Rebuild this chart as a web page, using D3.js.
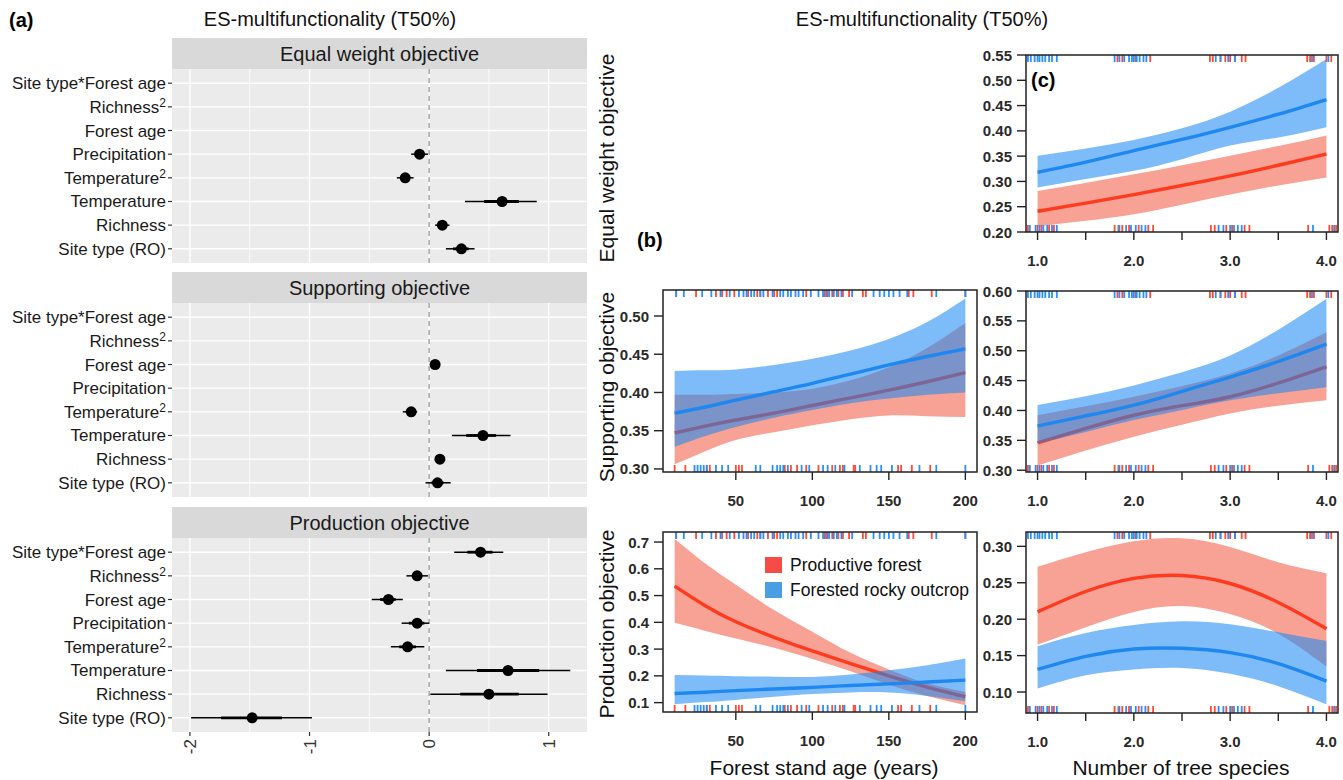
<!DOCTYPE html>
<html>
<head>
<meta charset="utf-8">
<script src="https://cdn.jsdelivr.net/npm/d3@7"></script>
<style>
  body { margin: 0; background: #fff; }
  svg { display: block; font-family: "Liberation Sans", Arial, sans-serif; }
</style>
</head>
<body>
<svg id="fig" width="1343" height="780"></svg>
<script>
// #region Data : panel (a) coefficients
const terms = ["Site type*Forest age", "Richness", "Forest age", "Precipitation", "Temperature", "Temperature", "Richness", "Site type (RO)"];
const termSup = ["", "2", "", "", "2", "", "", ""];
const objectives = ["Equal weight objective", "Supporting objective", "Production objective"];
const coefTicks = [-2, -1, 0, 1];

// estimate, outer interval, inner interval (null = term not retained)
const eqEst  = [null, null, null, -0.08, -0.20, 0.61, 0.11, 0.27];
const eqLo   = [null, null, null, -0.15, -0.27, 0.30, 0.05, 0.14];
const eqHi   = [null, null, null, -0.01, -0.13, 0.90, 0.17, 0.38];
const eqLoIn = [null, null, null, -0.12, -0.24, 0.46, 0.08, 0.20];
const eqHiIn = [null, null, null, -0.05, -0.16, 0.75, 0.14, 0.33];

const supEst  = [null, null, 0.05, null, -0.15, 0.45, 0.09, 0.07];
const supLo   = [null, null, 0.02, null, -0.22, 0.19, 0.05, -0.03];
const supHi   = [null, null, 0.09, null, -0.10, 0.68, 0.13, 0.18];
const supLoIn = [null, null, 0.03, null, -0.19, 0.31, 0.07, 0.02];
const supHiIn = [null, null, 0.07, null, -0.12, 0.56, 0.11, 0.12];

const prodEst  = [0.43, -0.10, -0.34, -0.10, -0.18, 0.66, 0.50, -1.48];
const prodLo   = [0.21, -0.19, -0.48, -0.23, -0.32, 0.14, 0.01, -1.99];
const prodHi   = [0.62, -0.01, -0.22, 0.00, -0.04, 1.18, 0.99, -0.98];
const prodLoIn = [0.32, -0.14, -0.41, -0.17, -0.25, 0.40, 0.26, -1.74];
const prodHiIn = [0.53, -0.06, -0.28, -0.04, -0.11, 0.92, 0.75, -1.23];
// #endregion

// #region Data : panels (b) forest stand age effects
const ageX = [10, 30, 50, 75, 100, 125, 150, 175, 200];
const ageTicks = [50, 100, 150, 200];

const supAgeRedFit = [0.347, 0.356, 0.364, 0.373, 0.383, 0.393, 0.403, 0.414, 0.426];
const supAgeRedLo  = [0.306, 0.323, 0.338, 0.348, 0.357, 0.365, 0.370, 0.369, 0.368];
const supAgeRedHi  = [0.397, 0.397, 0.398, 0.400, 0.405, 0.416, 0.433, 0.458, 0.491];
const supAgeBlueFit = [0.373, 0.381, 0.390, 0.401, 0.412, 0.424, 0.436, 0.447, 0.457];
const supAgeBlueLo  = [0.329, 0.343, 0.355, 0.367, 0.377, 0.386, 0.392, 0.397, 0.400];
const supAgeBlueHi  = [0.428, 0.429, 0.430, 0.436, 0.444, 0.455, 0.470, 0.492, 0.523];

const prodAgeRedFit = [0.535, 0.462, 0.402, 0.344, 0.293, 0.246, 0.200, 0.158, 0.122];
const prodAgeRedLo  = [0.398, 0.368, 0.340, 0.305, 0.263, 0.217, 0.167, 0.125, 0.090];
const prodAgeRedHi  = [0.711, 0.620, 0.540, 0.446, 0.365, 0.286, 0.224, 0.172, 0.140];
const prodAgeBlueFit = [0.134, 0.139, 0.145, 0.151, 0.157, 0.164, 0.170, 0.177, 0.184];
const prodAgeBlueLo  = [0.094, 0.102, 0.110, 0.122, 0.132, 0.138, 0.138, 0.125, 0.105];
const prodAgeBlueHi  = [0.203, 0.201, 0.199, 0.197, 0.196, 0.205, 0.221, 0.240, 0.265];

// rug: stand ages of the plots
const ageTopRed  = [11, 24, 37, 41, 44, 49, 58, 64, 66, 71, 75, 77, 96, 108, 110, 113, 117, 120, 124, 133, 135, 163, 166, 178, 200];
const ageTopBlue = [11, 16, 28, 34, 40, 46, 52, 55, 57, 60, 62, 66, 68, 74, 79, 81, 84, 86, 89, 91, 94, 99, 104, 107, 109, 111, 114, 116, 119, 126, 140, 144, 147, 150, 153, 157, 162, 181, 200];
const ageBotRed  = [10, 17, 31, 33, 50, 52, 54, 82, 86, 90, 96, 104, 113, 118, 120, 127, 128, 156, 158, 165, 177];
const ageBotBlue = [23, 25, 27, 29, 31, 37, 41, 45, 63, 66, 74, 77, 79, 81, 84, 93, 98, 107, 110, 115, 121, 131, 138, 142, 145, 152, 170, 181, 200];
// #endregion

// #region Data : panels (c) number of tree species effects
const spX = [1, 1.5, 2, 2.5, 3, 3.5, 4];
const spTicks = [1, 1.5, 2, 2.5, 3, 3.5, 4];

const eqSpRedFit = [0.241, 0.257, 0.274, 0.292, 0.311, 0.332, 0.354];
const eqSpRedLo  = [0.211, 0.222, 0.235, 0.254, 0.274, 0.292, 0.308];
const eqSpRedHi  = [0.281, 0.297, 0.314, 0.332, 0.351, 0.370, 0.391];
const eqSpBlueFit = [0.318, 0.338, 0.361, 0.383, 0.407, 0.433, 0.462];
const eqSpBlueLo  = [0.288, 0.305, 0.321, 0.344, 0.371, 0.387, 0.407];
const eqSpBlueHi  = [0.351, 0.365, 0.382, 0.405, 0.438, 0.485, 0.542];

const supSpRedFit = [0.346, 0.370, 0.392, 0.408, 0.423, 0.446, 0.473];
const supSpRedLo  = [0.308, 0.333, 0.356, 0.376, 0.395, 0.408, 0.417];
const supSpRedHi  = [0.392, 0.407, 0.423, 0.441, 0.462, 0.492, 0.531];
const supSpBlueFit = [0.374, 0.391, 0.409, 0.432, 0.456, 0.482, 0.511];
const supSpBlueLo  = [0.345, 0.364, 0.384, 0.401, 0.417, 0.429, 0.439];
const supSpBlueHi  = [0.409, 0.424, 0.442, 0.464, 0.492, 0.535, 0.587];

const prodSpRedFit = [0.210, 0.238, 0.256, 0.260, 0.249, 0.223, 0.187];
const prodSpRedLo  = [0.165, 0.189, 0.210, 0.218, 0.207, 0.180, 0.135];
const prodSpRedHi  = [0.272, 0.292, 0.307, 0.311, 0.299, 0.278, 0.263];
const prodSpBlueFit = [0.131, 0.149, 0.159, 0.160, 0.154, 0.139, 0.115];
const prodSpBlueLo  = [0.105, 0.123, 0.131, 0.133, 0.125, 0.108, 0.083];
const prodSpBlueHi  = [0.163, 0.181, 0.192, 0.197, 0.193, 0.182, 0.170];

const spTopRed  = [1.83, 1.88, 2.02, 2.17, 2.79, 2.82, 2.90, 2.95, 3.00, 3.05, 3.12, 3.16, 3.80, 3.83, 3.87, 4.00, 4.05];
const spTopBlue = [0.90, 0.93, 0.97, 1.00, 1.02, 1.05, 1.08, 1.12, 1.15, 1.20, 1.80, 1.85, 1.90, 1.95, 1.98, 2.00, 2.03, 2.06, 2.10, 2.13, 2.85, 2.90, 2.98, 3.05, 3.85, 4.02];
const spBotRed  = [0.90, 1.00, 1.04, 1.12, 1.17, 1.80, 1.84, 1.88, 1.95, 2.05, 2.15, 2.20, 2.80, 2.84, 2.96, 3.02, 3.15, 3.20, 3.81, 4.03, 4.06, 4.10];
const spBotBlue = [0.92, 0.98, 1.02, 1.06, 1.10, 1.15, 1.20, 1.85, 1.92, 1.97, 2.02, 2.08, 2.12, 2.88, 2.93, 3.00, 3.04, 3.08, 3.12, 3.86, 4.08];

const legendLabels = ["Productive forest", "Forested rocky outcrop"];
// #endregion

const svg = d3.select("#fig");

const redLine = "#ff3b1f", redBand = "#f8a195";
const blueLine = "#1e88f0", blueBand = "rgb(24,136,242)", blueAlpha = 0.56;

// #region Panel (a) : coefficient plot (ggplot look)
const xA = d3.scaleLinear().domain([-2.15, 1.32]).range([172, 587]);
const stripTops = [38, 272, 507];
const stripH = 31, panelH = 194;

const coefSets = [
  [eqEst, eqLo, eqHi, eqLoIn, eqHiIn],
  [supEst, supLo, supHi, supLoIn, supHiIn],
  [prodEst, prodLo, prodHi, prodLoIn, prodHiIn]
];

svg.append("text").attr("x", 9).attr("y", 27).attr("font-size", 20).attr("font-weight", "bold").text("(a)");
svg.append("text").attr("x", 330).attr("y", 26).attr("text-anchor", "middle").attr("font-size", 20).attr("fill", "#111")
  .text("ES-multifunctionality (T50%)");

objectives.forEach((obj, k) => {
  const top = stripTops[k] + stripH, bottom = top + panelH;
  const g = svg.append("g");
  const y = d3.scalePoint().domain(d3.range(terms.length)).range([top, bottom]).padding(0.6);

  // strip
  g.append("rect").attr("x", xA.range()[0]).attr("y", stripTops[k]).attr("width", xA.range()[1] - xA.range()[0])
    .attr("height", stripH).attr("fill", "#d9d9d9");
  g.append("text").attr("x", (xA.range()[0] + xA.range()[1]) / 2).attr("y", stripTops[k] + stripH / 2 + 7)
    .attr("text-anchor", "middle").attr("font-size", 20).attr("fill", "#1a1a1a").text(obj);

  // panel background + grid
  g.append("rect").attr("x", xA.range()[0]).attr("y", top).attr("width", xA.range()[1] - xA.range()[0])
    .attr("height", panelH).attr("fill", "#ebebeb");
  g.selectAll(".minor").data([-1.5, -0.5, 0.5]).join("line")
    .attr("x1", d => xA(d)).attr("x2", d => xA(d)).attr("y1", top).attr("y2", bottom)
    .attr("stroke", "#fff").attr("stroke-width", 0.8);
  g.selectAll(".major").data(coefTicks).join("line")
    .attr("x1", d => xA(d)).attr("x2", d => xA(d)).attr("y1", top).attr("y2", bottom)
    .attr("stroke", "#fff").attr("stroke-width", 1.4);
  g.selectAll(".hgrid").data(d3.range(terms.length)).join("line")
    .attr("x1", xA.range()[0]).attr("x2", xA.range()[1]).attr("y1", d => y(d)).attr("y2", d => y(d))
    .attr("stroke", "#fff").attr("stroke-width", 1.4);

  // zero reference
  g.append("line").attr("x1", xA(0)).attr("x2", xA(0)).attr("y1", top).attr("y2", bottom)
    .attr("stroke", "#a0a0a0").attr("stroke-width", 1.4).attr("stroke-dasharray", "5,4");

  // y axis labels
  d3.range(terms.length).forEach(i => {
    g.append("line").attr("x1", xA.range()[0] - 4).attr("x2", xA.range()[0]).attr("y1", y(i)).attr("y2", y(i))
      .attr("stroke", "#333").attr("stroke-width", 1.2);
    const t = g.append("text").attr("x", xA.range()[0] - 6).attr("y", y(i) + 6)
      .attr("text-anchor", "end").attr("font-size", 17).attr("fill", "#1a1a1a");
    if (termSup[i]) {
      t.append("tspan").text(terms[i]);
      t.append("tspan").attr("font-size", 12).attr("dy", -6).text(termSup[i]);
    } else {
      t.text(terms[i]);
    }
  });

  // estimates
  const [est, lo, hi, loIn, hiIn] = coefSets[k];
  est.forEach((e, i) => {
    if (e === null) return;
    g.append("line").attr("x1", xA(lo[i])).attr("x2", xA(hi[i])).attr("y1", y(i)).attr("y2", y(i))
      .attr("stroke", "#000").attr("stroke-width", 1.5);
    g.append("line").attr("x1", xA(loIn[i])).attr("x2", xA(hiIn[i])).attr("y1", y(i)).attr("y2", y(i))
      .attr("stroke", "#000").attr("stroke-width", 2.8);
    g.append("circle").attr("cx", xA(e)).attr("cy", y(i)).attr("r", 5.5).attr("fill", "#000");
  });

  // x axis on last facet only
  if (k === objectives.length - 1) {
    coefTicks.forEach(v => {
      g.append("line").attr("x1", xA(v)).attr("x2", xA(v)).attr("y1", bottom).attr("y2", bottom + 4)
        .attr("stroke", "#333").attr("stroke-width", 1.2);
      g.append("text").attr("transform", `translate(${xA(v) + 6},${bottom + 7}) rotate(-90)`)
        .attr("text-anchor", "end").attr("font-size", 17).attr("fill", "#333").text(v);
    });
  }
});
// #endregion

// #region Panels (b) and (c) : effect plots (R base look)
function effectPanel(p) {
  const x = d3.scaleLinear().domain(p.xDomain).range([p.left, p.right]);
  const y = d3.scaleLinear().domain(p.yDomain).range([p.bottom, p.top]);
  const g = svg.append("g");
  const clipId = "clip-" + p.id;
  g.append("clipPath").attr("id", clipId).append("rect")
    .attr("x", p.left).attr("y", p.top).attr("width", p.right - p.left).attr("height", p.bottom - p.top);
  const plot = g.append("g").attr("clip-path", `url(#${clipId})`);

  const area = d3.area().x((d, i) => x(p.xs[i])).y0(d => y(d[0])).y1(d => y(d[1])).curve(d3.curveNatural);
  const line = d3.line().x((d, i) => x(p.xs[i])).y(d => y(d)).curve(d3.curveNatural);

  plot.append("path").datum(d3.zip(p.redLo, p.redHi)).attr("d", area).attr("fill", redBand);
  plot.append("path").datum(p.redFit).attr("d", line).attr("fill", "none").attr("stroke", redLine).attr("stroke-width", 3.4);
  plot.append("path").datum(d3.zip(p.blueLo, p.blueHi)).attr("d", area).attr("fill", blueBand).attr("fill-opacity", blueAlpha);
  plot.append("path").datum(p.blueFit).attr("d", line).attr("fill", "none").attr("stroke", blueLine).attr("stroke-width", 3.4);

  // rugs
  const rug = (vals, color, atTop) => plot.selectAll(null).data(vals).join("line")
    .attr("x1", d => x(d)).attr("x2", d => x(d))
    .attr("y1", atTop ? p.top : p.bottom).attr("y2", atTop ? p.top + 7 : p.bottom - 7)
    .attr("stroke", color).attr("stroke-width", 1.8);
  rug(p.rugTopRed, "#ff4a36", true);
  rug(p.rugTopBlue, "#2a90ff", true);
  rug(p.rugBotRed, "#ff4a36", false);
  rug(p.rugBotBlue, "#2a90ff", false);

  // frame
  g.append("rect").attr("x", p.left).attr("y", p.top).attr("width", p.right - p.left).attr("height", p.bottom - p.top)
    .attr("fill", "none").attr("stroke", "#222").attr("stroke-width", 1.5);

  // y axis
  p.yTicks.forEach(v => {
    g.append("line").attr("x1", p.left - 9).attr("x2", p.left).attr("y1", y(v)).attr("y2", y(v))
      .attr("stroke", "#222").attr("stroke-width", 1.4);
    g.append("text").attr("x", p.left - 14).attr("y", y(v) + 5.5).attr("text-anchor", "end")
      .attr("font-size", 15).attr("font-weight", "bold").attr("fill", "#2a2a2a").text(d3.format(p.yFmt)(v));
  });
  // x axis
  p.xTicks.forEach(v => {
    g.append("line").attr("x1", x(v)).attr("x2", x(v)).attr("y1", p.bottom).attr("y2", p.bottom + 8)
      .attr("stroke", "#222").attr("stroke-width", 1.4);
    if (p.xLabel(v)) {
      g.append("text").attr("x", x(v)).attr("y", p.bottom + 34).attr("text-anchor", "middle")
        .attr("font-size", 15).attr("font-weight", "bold").attr("fill", "#2a2a2a").text(p.xLabel(v));
    }
  });
  return { x, y, g };
}

const ageCommon = {
  xs: ageX, xDomain: [2.4, 207.6], left: 663, right: 977, xTicks: ageTicks, xLabel: v => String(v),
  rugTopRed: ageTopRed, rugTopBlue: ageTopBlue, rugBotRed: ageBotRed, rugBotBlue: ageBotBlue
};
const spCommon = {
  xs: spX, xDomain: [0.88, 4.12], left: 1026, right: 1338, xTicks: spTicks,
  xLabel: v => Number.isInteger(v) ? d3.format(".1f")(v) : null,
  rugTopRed: spTopRed, rugTopBlue: spTopBlue, rugBotRed: spBotRed, rugBotBlue: spBotBlue
};

effectPanel({ ...spCommon, id: "c-eq", top: 55, bottom: 232, yDomain: [0.20, 0.55],
  yTicks: [0.20, 0.25, 0.30, 0.35, 0.40, 0.45, 0.50, 0.55], yFmt: ".2f",
  redFit: eqSpRedFit, redLo: eqSpRedLo, redHi: eqSpRedHi, blueFit: eqSpBlueFit, blueLo: eqSpBlueLo, blueHi: eqSpBlueHi });

effectPanel({ ...ageCommon, id: "b-sup", top: 290, bottom: 472, yDomain: [0.296, 0.534],
  yTicks: [0.30, 0.35, 0.40, 0.45, 0.50], yFmt: ".2f",
  redFit: supAgeRedFit, redLo: supAgeRedLo, redHi: supAgeRedHi, blueFit: supAgeBlueFit, blueLo: supAgeBlueLo, blueHi: supAgeBlueHi });

effectPanel({ ...spCommon, id: "c-sup", top: 291, bottom: 472, yDomain: [0.297, 0.60],
  yTicks: [0.30, 0.35, 0.40, 0.45, 0.50, 0.55, 0.60], yFmt: ".2f",
  redFit: supSpRedFit, redLo: supSpRedLo, redHi: supSpRedHi, blueFit: supSpBlueFit, blueLo: supSpBlueLo, blueHi: supSpBlueHi });

effectPanel({ ...ageCommon, id: "b-prod", top: 532, bottom: 712, yDomain: [0.065, 0.7375],
  yTicks: [0.1, 0.2, 0.3, 0.4, 0.5, 0.6, 0.7], yFmt: ".1f",
  redFit: prodAgeRedFit, redLo: prodAgeRedLo, redHi: prodAgeRedHi, blueFit: prodAgeBlueFit, blueLo: prodAgeBlueLo, blueHi: prodAgeBlueHi });

effectPanel({ ...spCommon, id: "c-prod", top: 532, bottom: 713, yDomain: [0.0712, 0.3197],
  yTicks: [0.10, 0.15, 0.20, 0.25, 0.30], yFmt: ".2f",
  redFit: prodSpRedFit, redLo: prodSpRedLo, redHi: prodSpRedHi, blueFit: prodSpBlueFit, blueLo: prodSpBlueLo, blueHi: prodSpBlueHi });

// legend inside production (b)
const legendColors = ["#f54c46", "#4a9ee3"];
legendLabels.forEach((lab, i) => {
  svg.append("rect").attr("x", 765).attr("y", 557 + i * 25).attr("width", 17).attr("height", 16)
    .attr("fill", legendColors[i]);
  svg.append("text").attr("x", 790).attr("y", 571 + i * 25).attr("font-size", 17.5).attr("fill", "#111").text(lab);
});

// titles and labels
svg.append("text").attr("x", 922).attr("y", 26).attr("text-anchor", "middle").attr("font-size", 20).attr("fill", "#111")
  .text("ES-multifunctionality (T50%)");
svg.append("text").attr("x", 637).attr("y", 247).attr("font-size", 20).attr("font-weight", "bold").text("(b)");
svg.append("text").attr("x", 1031).attr("y", 87).attr("font-size", 20).attr("font-weight", "bold").text("(c)");

[["Equal weight objective", 158], ["Supporting objective", 387], ["Production objective", 624]].forEach(([t, cy]) => {
  svg.append("text").attr("transform", `translate(614,${cy}) rotate(-90)`).attr("text-anchor", "middle")
    .attr("font-size", 21).attr("fill", "#111").text(t);
});
svg.append("text").attr("x", 824).attr("y", 775).attr("text-anchor", "middle").attr("font-size", 21).attr("fill", "#111")
  .text("Forest stand age (years)");
svg.append("text").attr("x", 1181).attr("y", 775).attr("text-anchor", "middle").attr("font-size", 21).attr("fill", "#111")
  .text("Number of tree species");
// #endregion
</script>
</body>
</html>
